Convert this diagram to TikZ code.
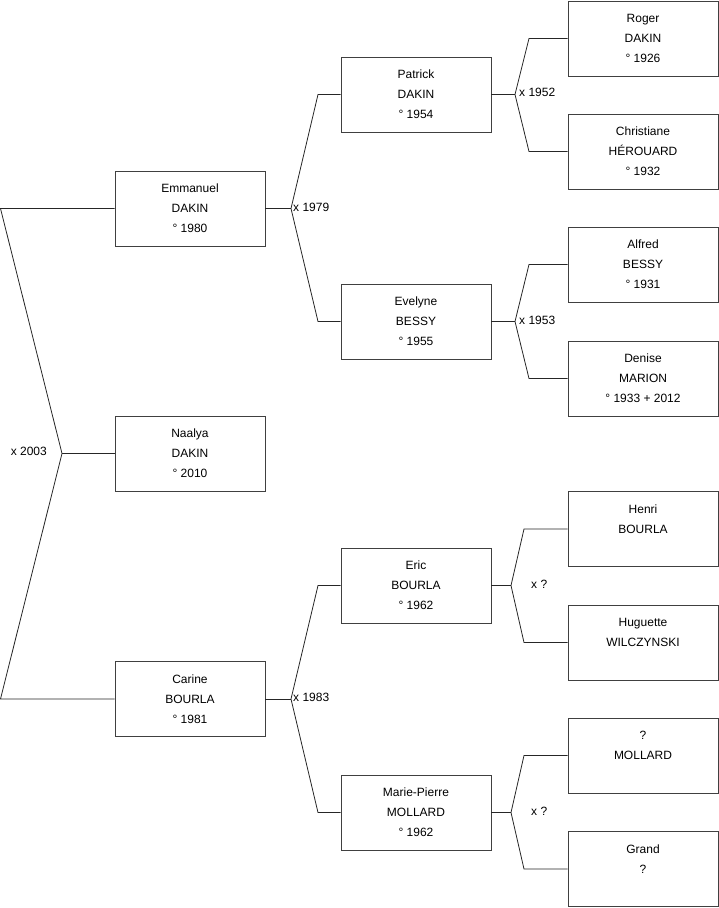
\documentclass[tikz,border=0pt]{standalone}
\usepackage{fontspec}
\setmainfont{Liberation Sans}
\tikzset{
  person/.style={draw=black!75, line width=0.8bp, minimum width=150bp, minimum height=75bp,
    align=center, inner sep=0pt, font=\fontsize{12bp}{20bp}\selectfont, text=black},
  link/.style={draw=black!85, line width=0.8bp},
  mlabel/.style={font=\fontsize{12bp}{14bp}\selectfont, inner sep=0pt, text=black}
}
\begin{document}
\begin{tikzpicture}[x=1bp,y=-1bp]
\useasboundingbox (0,0) rectangle (719,908);
% generation 1
\node[person] (emm) at (190,208.5) {Emmanuel\\DAKIN\\° 1980};
\node[person] (naa) at (190,453.5) {Naalya\\DAKIN\\° 2010};
\node[person] (car) at (190,699) {Carine\\BOURLA\\° 1981};
% generation 2
\node[person] (pat) at (416,94.5) {Patrick\\DAKIN\\° 1954};
\node[person] (eve) at (416,321.5) {Evelyne\\BESSY\\° 1955};
\node[person] (eri) at (416,585.5) {Eric\\BOURLA\\° 1962};
\node[person] (mar) at (416,812.5) {Marie-Pierre\\MOLLARD\\° 1962};
% generation 3
\node[person] (rog) at (643,38.5) {Roger\\DAKIN\\° 1926};
\node[person] (chr) at (643,151.5) {Christiane\\HÉROUARD\\° 1932};
\node[person] (alf) at (643,264.5) {Alfred\\BESSY\\° 1931};
\node[person] (den) at (643,378.5) {Denise\\MARION\\° 1933 + 2012};
\node[person] (hen) at (643,529) {Henri\\BOURLA\\\mbox{}};
\node[person] (hug) at (643,642.5) {Huguette\\WILCZYNSKI\\\mbox{}};
\node[person] (mol) at (643,755.5) {?\\MOLLARD\\\mbox{}};
\node[person] (gra) at (643,869) {Grand\\?\\\mbox{}};

% level 1 bracket
\coordinate (p1) at (0.5,208.5);
\coordinate (p2) at (0.5,699);
\coordinate (j1) at (62,453.5);
\draw[link] (emm.west) -- (p1) -- (j1) -- (p2) -- (car.west);
\draw[link] (j1) -- (naa.west);
\node[mlabel, anchor=east] (l1) at (47,451) {x 2003};

% Emmanuel's parents
\coordinate (j2) at (291,208.5);
\coordinate (k2a) at (318,94.5);
\coordinate (k2b) at (318,321.5);
\draw[link] (emm.east) -- (j2);
\draw[link] (pat.west) -- (k2a) -- (j2) -- (k2b) -- (eve.west);
\node[mlabel, anchor=west] (l2) at (293,207) {x 1979};

% Carine's parents
\coordinate (j5) at (291,699);
\coordinate (k5a) at (318,585.5);
\coordinate (k5b) at (318,812.5);
\draw[link] (car.east) -- (j5);
\draw[link] (eri.west) -- (k5a) -- (j5) -- (k5b) -- (mar.west);
\node[mlabel, anchor=west] (l5) at (293,697) {x 1983};

% Patrick's parents
\coordinate (j3) at (515,94.5);
\coordinate (k3a) at (529,38.5);
\coordinate (k3b) at (529,151.5);
\draw[link] (pat.east) -- (j3);
\draw[link] (rog.west) -- (k3a) -- (j3) -- (k3b) -- (chr.west);
\node[mlabel, anchor=west] (l3) at (519,92) {x 1952};

% Evelyne's parents
\coordinate (j4) at (515,321.5);
\coordinate (k4a) at (529,264.5);
\coordinate (k4b) at (529,378.5);
\draw[link] (eve.east) -- (j4);
\draw[link] (alf.west) -- (k4a) -- (j4) -- (k4b) -- (den.west);
\node[mlabel, anchor=west] (l4) at (519,320) {x 1953};

% Eric's parents
\coordinate (j6) at (511,585.5);
\coordinate (k6a) at (524,529);
\coordinate (k6b) at (524,642.5);
\draw[link] (eri.east) -- (j6);
\draw[link] (hen.west) -- (k6a) -- (j6) -- (k6b) -- (hug.west);
\node[mlabel, anchor=west] (l6) at (531,584) {x ?};

% Marie-Pierre's parents
\coordinate (j7) at (511,812.5);
\coordinate (k7a) at (524,755.5);
\coordinate (k7b) at (524,869);
\draw[link] (mar.east) -- (j7);
\draw[link] (mol.west) -- (k7a) -- (j7) -- (k7b) -- (gra.west);
\node[mlabel, anchor=west] (l7) at (531,811) {x ?};
\end{tikzpicture}
\end{document}
